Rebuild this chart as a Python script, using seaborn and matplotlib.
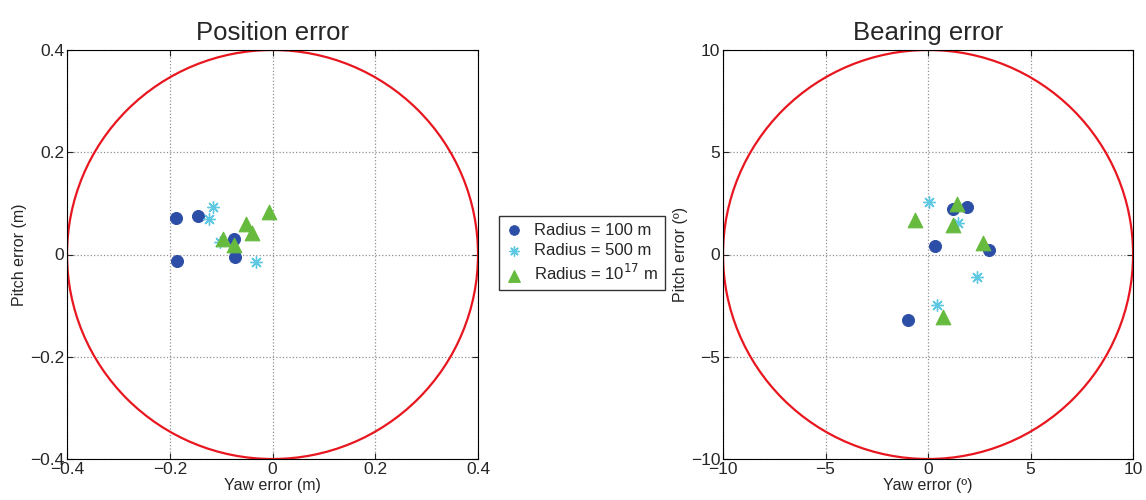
import numpy as np
import pandas as pd
import matplotlib
matplotlib.use("Agg")
import matplotlib.pyplot as plt
import seaborn as sns

# Position error (m)
pos_100_yaw = [-0.188, -0.146, -0.185, -0.075, -0.073]
pos_100_pitch = [0.072, 0.076, -0.013, 0.031, -0.004]
pos_500_yaw = [-0.115, -0.123, -0.102, -0.032]
pos_500_pitch = [0.092, 0.070, 0.024, -0.015]
pos_1e17_yaw = [-0.007, -0.052, -0.040, -0.097, -0.075]
pos_1e17_pitch = [0.083, 0.060, 0.043, 0.030, 0.019]

# Bearing error (deg)
brg_100_yaw = [1.20, 1.92, 0.36, 2.98, -0.98]
brg_100_pitch = [2.21, 2.34, 0.42, 0.22, -3.20]
brg_500_yaw = [0.05, 1.46, 2.39, 0.42]
brg_500_pitch = [2.58, 1.53, -1.09, -2.49]
brg_1e17_yaw = [1.40, -0.62, 1.24, 2.67, 0.72]
brg_1e17_pitch = [2.47, 1.69, 1.43, 0.55, -3.07]

labels = ["Radius = 100 m", "Radius = 500 m", "Radius = 10$^{17}$ m"]
pos_limit = 0.4
brg_limit = 10
pos_ticks = [-0.4, -0.2, 0, 0.2, 0.4]
brg_ticks = [-10, -5, 0, 5, 10]

sns.set_style("ticks")
plt.rcParams['font.family'] = ['Liberation Sans', 'DejaVu Sans']
plt.rcParams['xtick.direction'] = 'in'
plt.rcParams['ytick.direction'] = 'in'

colors = ["#2c4ea6", "#5fc9e3", "#66bb3f"]
markers = ["o", (8, 2, 0), "^"]
sizes = [75, 70, 110]


def make_df(series):
    rows = []
    for lab, (xs, ys) in zip(labels, series):
        for x, y in zip(xs, ys):
            rows.append({"yaw": x, "pitch": y, "group": lab})
    return pd.DataFrame(rows)


pos_df = make_df([(pos_100_yaw, pos_100_pitch), (pos_500_yaw, pos_500_pitch),
                  (pos_1e17_yaw, pos_1e17_pitch)])
brg_df = make_df([(brg_100_yaw, brg_100_pitch), (brg_500_yaw, brg_500_pitch),
                  (brg_1e17_yaw, brg_1e17_pitch)])

fig = plt.figure(figsize=(11.46, 5.0), dpi=100)
ax1 = fig.add_axes([0.0585, 0.082, 0.3586, 0.818])
ax2 = fig.add_axes([0.6309, 0.082, 0.3578, 0.818])


def draw(ax, df, lim, ticks, title, xlabel, ylabel):
    for lab, c, m, s in zip(labels, colors, markers, sizes):
        sub = df[df["group"] == lab]
        kw = dict(color=c, edgecolor=c) if m != markers[1] else dict(color=c, linewidth=1.0)
        sns.scatterplot(data=sub, x="yaw", y="pitch", marker=m, s=s, ax=ax,
                        label=lab, zorder=3, **kw)
    ax.add_patch(plt.Circle((0, 0), lim, fill=False, color="#e8171f", lw=1.6, zorder=2))
    ax.set_xlim(-lim, lim)
    ax.set_ylim(-lim, lim)
    ax.set_xticks(ticks)
    ax.set_yticks(ticks)
    ax.set_xticklabels([f"{t:g}".replace("-", "\u2212") for t in ticks])
    ax.set_yticklabels([f"{t:g}".replace("-", "\u2212") for t in ticks])
    ax.grid(True, linestyle=":", color="#909090", linewidth=0.9)
    ax.tick_params(labelsize=12.5, length=4, width=0.8, pad=2, top=True, right=True)
    ax.set_title(title, fontsize=18.5, pad=7)
    ax.set_xlabel(xlabel, fontsize=11.5, labelpad=1)
    ax.set_ylabel(ylabel, fontsize=11.5, labelpad=2)
    for sp in ax.spines.values():
        sp.set_linewidth(0.8)
        sp.set_color("black")
    ax.get_legend().remove()


draw(ax1, pos_df, pos_limit, pos_ticks, "Position error", "Yaw error (m)", "Pitch error (m)")
draw(ax2, brg_df, brg_limit, brg_ticks, "Bearing error", "Yaw error (\u00ba)", "Pitch error (\u00ba)")

handles, labs = ax1.get_legend_handles_labels()
leg = fig.legend(handles, labs, loc="center", bbox_to_anchor=(0.508, 0.494), fontsize=12,
                 frameon=True, fancybox=False, edgecolor="black", handletextpad=0.7,
                 handlelength=1.0, borderpad=0.4, labelspacing=0.32, markerscale=0.8,
                 borderaxespad=0)
leg.get_frame().set_linewidth(1.0)

fig.savefig("out.png", dpi=100)
